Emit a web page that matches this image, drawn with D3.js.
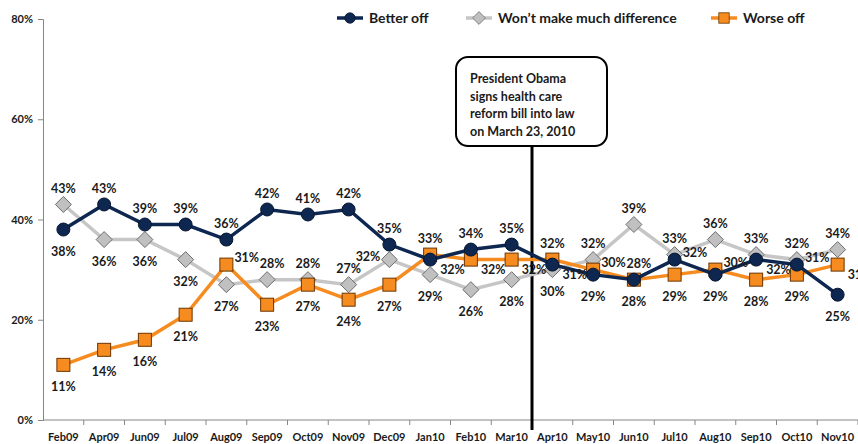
<!DOCTYPE html>
<html>
<head>
<meta charset="utf-8">
<script src="https://cdn.jsdelivr.net/npm/d3@7"></script>
<style>
  body { margin: 0; background: #fff; }
  text { font-family: Lato, "Liberation Sans", sans-serif; font-weight: bold; fill: #1a1a1a; }
</style>
</head>
<body>
<div id="chart"></div>
<script>
const months = ["Feb09", "Apr09", "Jun09", "Jul09", "Aug09", "Sep09", "Oct09", "Nov09", "Dec09", "Jan10",
                "Feb10", "Mar10", "Apr10", "May10", "Jun10", "Jul10", "Aug10", "Sep10", "Oct10", "Nov10"];

const betterOff = [38, 43, 39, 39, 36, 42, 41, 42, 35, 32, 34, 35, 31, 29, 28, 32, 29, 32, 31, 25];
const noDifference = [43, 36, 36, 32, 27, 28, 28, 27, 32, 29, 26, 28, 30, 32, 39, 33, 36, 33, 32, 34];
const worseOff = [11, 14, 16, 21, 31, 23, 27, 24, 27, 33, 32, 32, 32, 30, 28, 29, 30, 28, 29, 31];

const yTicks = [0, 20, 40, 60, 80];

// where each data label sits relative to its marker
// t = top, tr = top-right, b = below, r = right, rb = right-below, l = left
const betterPlace = ["b","t","t","t","t","t","t","t","t","rb","t","t","rb","b","b","r","b","rb","r","b"];
const noDiffPlace = ["t","b","b","b","b","tr","t","t","l","b","b","b","b","t","t","t","t","t","t","t"];
const worsePlace  = ["b","b","b","b","r","b","b","b","b","t","rb","rb","t","r","tr","b","r","b","b","rb"];

const noteLines = ["President Obama", "signs health care", "reform bill into law", "on March 23, 2010"];

const WIDTH = 858, HEIGHT = 444;

const svg = d3.select("#chart").append("svg")
    .attr("width", WIDTH)
    .attr("height", HEIGHT);

const xScale = d3.scalePoint()
    .domain(months)
    .range([43, 858])
    .padding(0.5);

const yScale = d3.scaleLinear()
    .domain([0, 80])
    .range([420, 19]);

const step = xScale.step();

// y axis
const ejeY = d3.axisLeft(yScale)
    .tickValues(yTicks)
    .tickSize(5)
    .tickFormat(d => d + "%");

const gY = svg.append("g")
    .attr("transform", "translate(43,0)")
    .call(ejeY);
gY.select(".domain").attr("stroke", "#868686");
gY.selectAll(".tick line").attr("stroke", "#868686");
gY.selectAll(".tick text").attr("font-size", "11px").attr("x", -10).style("font-family", null).attr("fill", null);

// x axis, ticks sit between categories
svg.append("line")
    .attr("x1", 43).attr("x2", 858)
    .attr("y1", 420).attr("y2", 420)
    .attr("stroke", "#868686");

svg.append("g")
    .selectAll("line")
    .data(d3.range(1, months.length + 1))
    .join("line")
    .attr("x1", k => 43 + k * step).attr("x2", k => 43 + k * step)
    .attr("y1", 420).attr("y2", 425)
    .attr("stroke", "#868686");

svg.append("g")
    .selectAll("text")
    .data(months)
    .join("text")
    .attr("x", d => xScale(d))
    .attr("y", 441)
    .attr("text-anchor", "middle")
    .attr("font-size", "11px")
    .text(d => d);

// annotation: vertical line + box
const lineX = (xScale("Mar10") + xScale("Apr10")) / 2;

svg.append("line")
    .attr("x1", lineX).attr("x2", lineX)
    .attr("y1", 146).attr("y2", 430)
    .attr("stroke", "#000")
    .attr("stroke-width", 3);

svg.append("rect")
    .attr("x", 456).attr("y", 57)
    .attr("width", 151).attr("height", 89)
    .attr("rx", 12).attr("ry", 12)
    .attr("fill", "#fff")
    .attr("stroke", "#000")
    .attr("stroke-width", 2);

svg.append("g")
    .selectAll("text")
    .data(noteLines)
    .join("text")
    .attr("x", 470)
    .attr("y", (d, i) => 83 + i * 17.5)
    .attr("font-size", "12.5px")
    .text(d => d);

// series
const series = [
    { name: "Won\u2019t make much difference", values: noDifference, place: noDiffPlace, color: "#c6c6c6", marker: "diamond" },
    { name: "Worse off", values: worseOff, place: worsePlace, color: "#f68b1f", marker: "square" },
    { name: "Better off", values: betterOff, place: betterPlace, color: "#0d2750", marker: "circle" }
];

const line = d3.line()
    .x(d => xScale(d.month))
    .y(d => yScale(d.value));

function drawMarker(g, type, color) {
    if (type === "circle") {
        g.append("circle").attr("r", 6.5).attr("fill", color).attr("stroke", "#07162e").attr("stroke-width", 1);
    } else if (type === "diamond") {
        g.append("path").attr("d", "M0,-8L8,0L0,8L-8,0Z").attr("fill", "#c0c0c0").attr("stroke", "#6e6e6e").attr("stroke-width", 1);
    } else {
        g.append("rect").attr("x", -6.5).attr("y", -6.5).attr("width", 13).attr("height", 13)
            .attr("fill", color).attr("stroke", "#6b3500").attr("stroke-width", 1);
    }
}

const labelOffset = {
    t:  { dx: 0,  dy: -16, anchor: "middle" },
    tr: { dx: 5,  dy: -16, anchor: "middle" },
    b:  { dx: 0,  dy: 22,  anchor: "middle" },
    r:  { dx: 8,  dy: -7,  anchor: "start" },
    rb: { dx: 10, dy: 10,  anchor: "start" },
    l:  { dx: -9, dy: -3,  anchor: "end" }
};

series.forEach(s => {
    const pts = s.values.map((v, i) => ({ month: months[i], value: v, place: s.place[i] }));

    svg.append("path")
        .datum(pts)
        .attr("d", line)
        .attr("fill", "none")
        .attr("stroke", s.color)
        .attr("stroke-width", 3.5);

    svg.append("g")
        .selectAll("g")
        .data(pts)
        .join("g")
        .attr("transform", d => `translate(${xScale(d.month)},${yScale(d.value)})`)
        .each(function() { drawMarker(d3.select(this), s.marker, s.color); });
});

// data labels on top of everything
series.forEach(s => {
    const pts = s.values.map((v, i) => ({ month: months[i], value: v, place: s.place[i] }));
    svg.append("g")
        .selectAll("text")
        .data(pts)
        .join("text")
        .attr("x", d => xScale(d.month) + labelOffset[d.place].dx)
        .attr("y", d => yScale(d.value) + labelOffset[d.place].dy)
        .attr("dy", "0.35em")
        .attr("text-anchor", d => labelOffset[d.place].anchor)
        .attr("font-size", "12.5px")
        .text(d => d.value + "%");
});

// legend
const legendItems = [
    { name: "Better off", x: 337, color: "#0d2750", marker: "circle" },
    { name: "Won\u2019t make much difference", x: 466, color: "#c6c6c6", marker: "diamond" },
    { name: "Worse off", x: 711, color: "#f68b1f", marker: "square" }
];

const legend = svg.append("g")
    .selectAll("g")
    .data(legendItems)
    .join("g")
    .attr("transform", d => `translate(${d.x},18)`);

legend.append("line")
    .attr("x1", 0).attr("x2", 26)
    .attr("stroke", d => d.color)
    .attr("stroke-width", 3.5);

legend.append("g")
    .attr("transform", "translate(13,0) scale(0.8)")
    .each(function(d) { drawMarker(d3.select(this), d.marker, d.color); });

legend.append("text")
    .attr("x", 32)
    .attr("dy", "0.35em")
    .attr("font-size", "14px")
    .text(d => d.name);
</script>
</body>
</html>
